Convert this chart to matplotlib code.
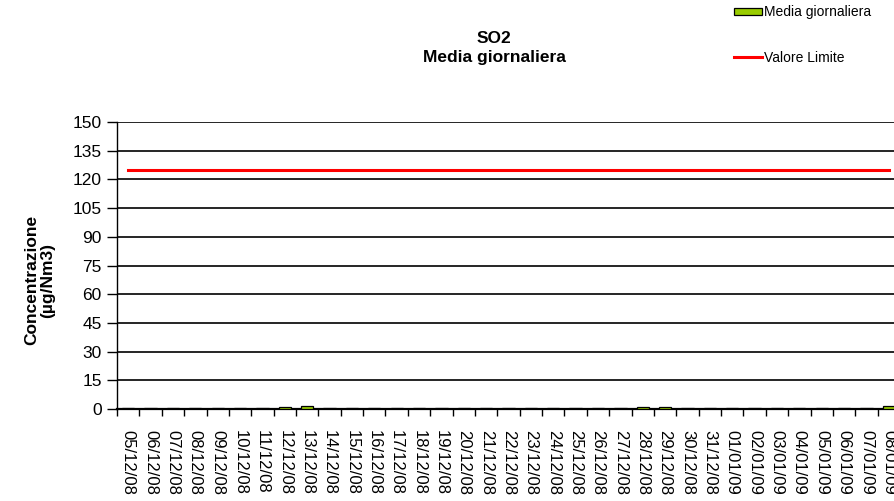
import matplotlib.pyplot as plt
import numpy as np
from matplotlib.ticker import FixedLocator, MultipleLocator

plt.rcParams["font.family"] = ["Liberation Sans", "DejaVu Sans"]

# giorni del periodo di misura
giorni = [
    "05/12/08", "06/12/08", "07/12/08", "08/12/08", "09/12/08", "10/12/08",
    "11/12/08", "12/12/08", "13/12/08", "14/12/08", "15/12/08", "16/12/08",
    "17/12/08", "18/12/08", "19/12/08", "20/12/08", "21/12/08", "22/12/08",
    "23/12/08", "24/12/08", "25/12/08", "26/12/08", "27/12/08", "28/12/08",
    "29/12/08", "30/12/08", "31/12/08", "01/01/09", "02/01/09", "03/01/09",
    "04/01/09", "05/01/09", "06/01/09", "07/01/09", "08/01/09",
]
# SO2 media giornaliera (ug/Nm3)
media_giornaliera = [
    0.3, 0.5, 0.5, 0.5, 0.4, 0.4, 0.5, 1.3, 1.4, 0.5, 0.4, 0.5,
    0.4, 0.3, 0.3, 0.3, 0.3, 0.3, 0.3, 0.3, 0.3, 0.4, 0.4, 1.2,
    1.2, 0.5, 0.4, 0.4, 0.4, 0.4, 0.4, 0.5, 0.5, 0.5, 1.5,
]
valore_limite = 125

x = np.arange(len(giorni))

fig = plt.figure(figsize=(8.94, 5.01), dpi=100)
ax = fig.add_axes([0.1309, 0.1836, 0.8758, 0.5729])

barre = ax.bar(x, media_giornaliera, width=0.55, color="#99cc00",
               edgecolor="black", linewidth=0.9, zorder=3,
               label="Media giornaliera")
linea, = ax.plot(x, [valore_limite] * len(x), color="#ff0000", lw=2.2,
                 zorder=4, label="Valore Limite")

ax.set_ylim(0, 150)
ax.set_xlim(-0.5, len(x) - 0.5)
ax.yaxis.set_major_locator(MultipleLocator(15))
ax.grid(axis="y", color="black", lw=1.2, zorder=0)
ax.set_axisbelow(True)

for s in ["top", "right"]:
    ax.spines[s].set_visible(False)
ax.spines["left"].set_linewidth(1.0)
ax.spines["bottom"].set_linewidth(1.6)

ax.tick_params(axis="y", direction="out", length=7, width=1.0,
               labelsize=12.5, pad=4)
ax.set_xticks(x)
ax.set_xticklabels(giorni, rotation=-90, fontsize=12)
ax.tick_params(axis="x", which="major", length=0, pad=15)
ax.xaxis.set_minor_locator(FixedLocator(np.arange(-0.5, len(x), 1.0)))
ax.tick_params(axis="x", which="minor", direction="out", length=5, width=1.0)

fig.text(0.5526, 1 - 48 / 501, "SO2\nMedia giornaliera", ha="center",
         va="center", fontsize=12.5, fontweight="bold", linespacing=1.3)
fig.text(40 / 894, 1 - 280 / 501, "Concentrazione\n(µg/Nm3)", ha="center",
         va="center", rotation=90, fontsize=12.5, fontweight="bold",
         linespacing=1.05)

fig.legend(handles=[barre, linea], loc="upper left",
           bbox_to_anchor=(733 / 894, 1 - 4 / 501), frameon=False,
           fontsize=10, handlelength=2.0, handleheight=0.5,
           handletextpad=0.15, labelspacing=2.25, borderpad=0.1,
           borderaxespad=0)

fig.savefig("out.png", dpi=100)
